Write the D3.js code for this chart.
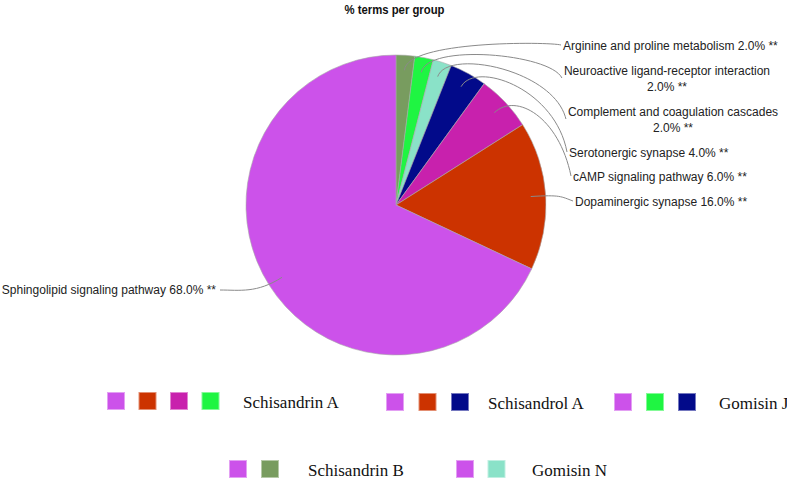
<!DOCTYPE html>
<html>
<head>
<meta charset="utf-8">
<script src="https://cdn.jsdelivr.net/npm/d3@7/dist/d3.min.js"></script>
<style>
  html, body { margin: 0; padding: 0; background: #fff; }
  svg { display: block; }
</style>
</head>
<body>
<svg id="chart" width="787" height="479"></svg>
<script>
// ---- data ----
const title = "% terms per group";
const terms = [
  "Arginine and proline metabolism",
  "Neuroactive ligand-receptor interaction",
  "Complement and coagulation cascades",
  "Serotonergic synapse",
  "cAMP signaling pathway",
  "Dopaminergic synapse",
  "Sphingolipid signaling pathway"
];
const percents = [2.0, 2.0, 2.0, 4.0, 6.0, 16.0, 68.0];
const termColors = ["#789c5f", "#1ff542", "#8ae2c8", "#020a8a", "#c821ad", "#cc3300", "#cc52ea"];
const groups = ["Schisandrin A", "Schisandrol A", "Gomisin J", "Schisandrin B", "Gomisin N"];
const groupTerms = [
  ["Sphingolipid signaling pathway", "Dopaminergic synapse", "cAMP signaling pathway", "Neuroactive ligand-receptor interaction"],
  ["Sphingolipid signaling pathway", "Dopaminergic synapse", "Serotonergic synapse"],
  ["Sphingolipid signaling pathway", "Neuroactive ligand-receptor interaction", "Serotonergic synapse"],
  ["Sphingolipid signaling pathway", "Arginine and proline metabolism"],
  ["Sphingolipid signaling pathway", "Complement and coagulation cascades"]
];

// ---- layout ----
const cx = 396, cy = 205, R = 150;
const labelLayout = [
  { x: 563, y: 50,  anchor: "start",  wrap: false },
  { x: 667, y: 75,  anchor: "middle", wrap: true },
  { x: 673, y: 116, anchor: "middle", wrap: true },
  { x: 569, y: 157, anchor: "start",  wrap: false },
  { x: 573, y: 181, anchor: "start",  wrap: false },
  { x: 575, y: 206, anchor: "start",  wrap: false },
  { x: 216, y: 294, anchor: "end",    wrap: false }
];
const legendLayout = [
  { x: 107, y: 392, step: 31.5, textX: 243 },
  { x: 386, y: 393, step: 32.5, textX: 488 },
  { x: 614, y: 393, step: 32,   textX: 719 },
  { x: 229, y: 460, step: 32,   textX: 308 },
  { x: 456, y: 460, step: 31.5, textX: 532 }
];
const sq = 18;

const svg = d3.select("#chart");
const colorOf = d3.scaleOrdinal().domain(terms).range(termColors);

// title
svg.append("text")
  .attr("x", 394.5).attr("y", 14)
  .attr("text-anchor", "middle")
  .attr("font-family", "'Liberation Sans Narrow', 'Arial Narrow', 'Liberation Sans', sans-serif")
  .attr("font-weight", "bold")
  .attr("font-size", 13)
  .attr("textLength", 100)
  .attr("lengthAdjust", "spacingAndGlyphs")
  .attr("fill", "#111")
  .text(title);

// pie
const pieData = d3.pie().sort(null).value(d => d.value)
  (terms.map((t, i) => ({ term: t, value: percents[i], i })));
const arc = d3.arc().innerRadius(0).outerRadius(R);
const g = svg.append("g").attr("transform", `translate(${cx},${cy})`);
g.selectAll("path.slice").data(pieData).join("path")
  .attr("class", "slice")
  .attr("d", arc)
  .attr("fill", d => colorOf(d.data.term))
  .attr("stroke", "#a8a8a8")
  .attr("stroke-width", 0.6);

// labels + leader lines
const labelG = svg.append("g")
  .attr("font-family", "'Liberation Sans', Arial, sans-serif")
  .attr("font-size", 12)
  .attr("fill", "#222");

function pointAt(angle, r) {
  return [cx + r * Math.sin(angle), cy - r * Math.cos(angle)];
}

pieData.forEach((d, i) => {
  const L = labelLayout[i];
  const pctText = d.data.value.toFixed(1) + "% **";
  const t = labelG.append("text")
    .attr("x", L.x).attr("y", L.y)
    .attr("text-anchor", L.anchor);
  let left, right, endY;
  if (L.wrap) {
    t.append("tspan").attr("x", L.x).attr("dy", 0).text(d.data.term);
    t.append("tspan").attr("x", L.x).attr("dy", 16).text(pctText);
    const w = t.node().firstChild.getComputedTextLength();
    left = L.x - w / 2;
    endY = L.y + 3;
  } else {
    t.text(d.data.term + " " + pctText);
    const w = t.node().getComputedTextLength();
    left = L.anchor === "start" ? L.x : L.x - w;
    right = L.anchor === "end" ? L.x : L.x + w;
    endY = L.y - 5;
  }
  const mid = (d.startAngle + d.endAngle) / 2;
  const s = pointAt(mid, R * 0.9);
  const c1 = pointAt(mid, R * 1.1);
  let e, c2;
  if (L.anchor === "end") {
    e = [right + 4, L.y - 4];
    c2 = [e[0] + 20, e[1]];
  } else {
    e = [left - 2, endY];
    const up = Math.max(0, e[1] - c1[1]);
    c2 = [e[0] - 12, c1[1] + up * 0.3];
  }
  svg.append("path")
    .attr("d", `M${s[0]},${s[1]} C${c1[0]},${c1[1]} ${c2[0]},${c2[1]} ${e[0]},${e[1]}`)
    .attr("fill", "none")
    .attr("stroke", "#8a8a8a")
    .attr("stroke-width", 1);
});

// legend
const legG = svg.append("g");
groups.forEach((gname, gi) => {
  const lay = legendLayout[gi];
  const items = groupTerms[gi];
  legG.selectAll(null).data(items).join("rect")
    .attr("x", (d, k) => lay.x + k * lay.step + 0.5)
    .attr("y", lay.y + 0.5)
    .attr("width", sq - 1).attr("height", sq - 1)
    .attr("fill", d => colorOf(d))
    .attr("stroke", d => d3.interpolateRgb(colorOf(d), "#ffffff")(0.45))
    .attr("stroke-width", 1);
  legG.append("text")
    .attr("x", lay.textX).attr("y", lay.y + sq - 2)
    .attr("font-family", "'Liberation Serif', 'Times New Roman', serif")
    .attr("font-size", 17)
    .attr("fill", "#111")
    .text(gname);
});
</script>
</body>
</html>
